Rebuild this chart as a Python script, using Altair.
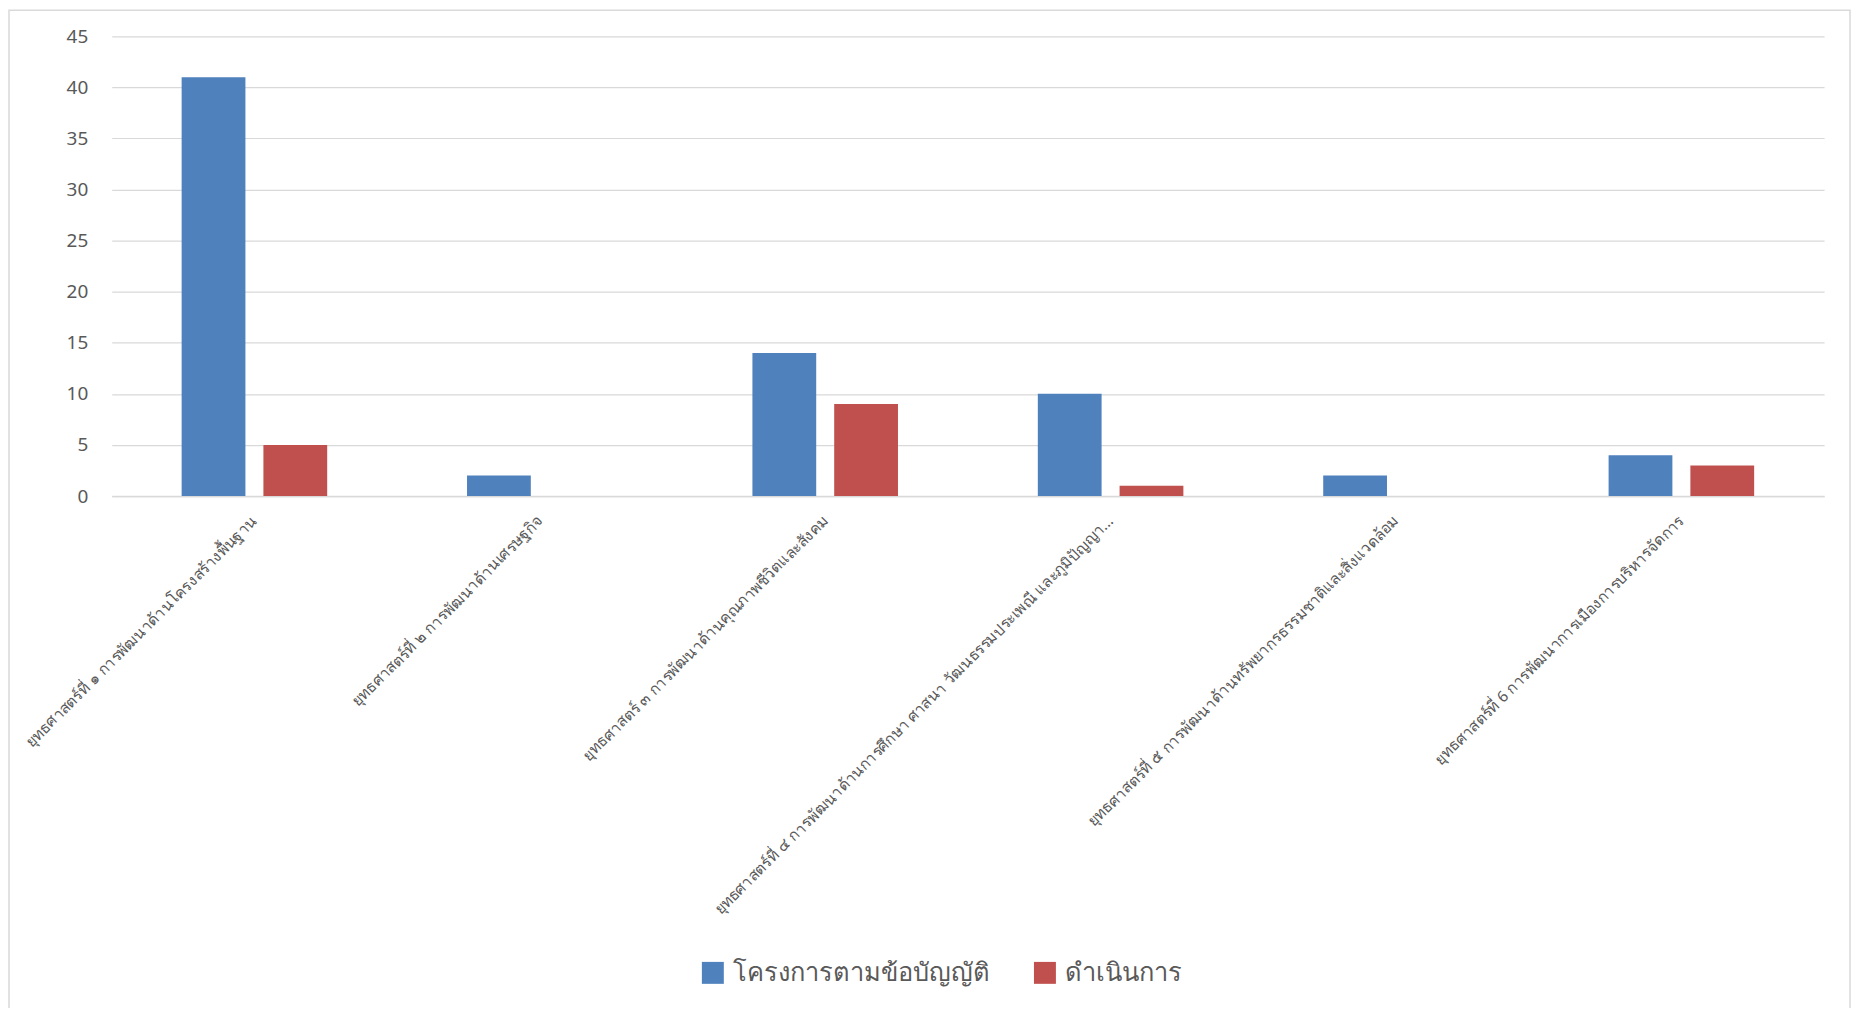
import altair as alt
import pandas as pd

categories = [
    "ยุทธศาสตร์ที่ ๑ การพัฒนาด้านโครงสร้างพื้นฐาน",
    "ยุทธศาสตร์ที่ ๒ การพัฒนาด้านเศรษฐกิจ",
    "ยุทธศาสตร์ ๓ การพัฒนาด้านคุณภาพชีวิตและสังคม",
    "ยุทธศาสตร์ที่ ๔ การพัฒนาด้านการศึกษา ศาสนา วัฒนธรรมประเพณี และภูมิปัญญา...",
    "ยุทธศาสตร์ที่ ๕ การพัฒนาด้านทรัพยากรธรรมชาติและสิ่งแวดล้อม",
    "ยุทธศาสตร์ที่ 6 การพัฒนาการเมืองการบริหารจัดการ",
]
series = ["โครงการตามข้อบัญญัติ", "ดำเนินการ"]
planned = [41, 2, 14, 10, 2, 4]
done = [5, 0, 9, 1, 0, 3]
colors = ["#4F81BD", "#C0504D"]

rows = []
for c, p, d in zip(categories, planned, done):
    rows.append({"cat": c, "series": series[0], "value": p})
    rows.append({"cat": c, "series": series[1], "value": d})
df = pd.DataFrame(rows)

W, H = 1717, 461
PAD_L, PAD_T, PAD_R, PAD_B = 104, 27, 28, 512
FONT = "Noto Sans"

bars = alt.Chart(df).mark_bar().encode(
    x=alt.X("cat:N", sort=categories, title=None,
            scale=alt.Scale(paddingInner=0.49, paddingOuter=0.245),
            axis=alt.Axis(labelAngle=-45, labelAlign="right", labelBaseline="middle",
                          labelFontSize=15.5, labelColor="#595959", labelFont=FONT,
                          labelPadding=22, labelLimit=0, ticks=False, tickSize=0,
                          domain=True, domainColor="#d9d9d9", domainWidth=1.5)),
    xOffset=alt.XOffset("series:N", sort=series, scale=alt.Scale(paddingInner=0.22)),
    y=alt.Y("value:Q", title=None,
            scale=alt.Scale(domain=[0, 45], nice=False),
            axis=alt.Axis(values=list(range(0, 50, 5)), labelFontSize=19,
                          labelColor="#595959", labelFont=FONT, labelPadding=24,
                          ticks=False, tickSize=0, domain=False,
                          gridColor="#d9d9d9", gridWidth=1.2)),
    color=alt.Color("series:N", sort=series, title=None,
                    scale=alt.Scale(domain=series, range=colors),
                    legend=alt.Legend(orient="none", legendX=590, legendY=926,
                                      direction="horizontal", symbolType="square",
                                      symbolSize=484, symbolStrokeWidth=0,
                                      labelFontSize=25.5, labelColor="#595959",
                                      labelFont=FONT, labelOffset=7,
                                      columnPadding=43, labelLimit=0)),
)

frame = alt.Chart(alt.Data(values=[{"a": 1}])).mark_rect(
    fillOpacity=0, stroke="#d9d9d9", strokeWidth=1.5
).encode(
    x=alt.value(-PAD_L + 1), x2=alt.value(W + PAD_R - 2),
    y=alt.value(-PAD_T + 1), y2=alt.value(H + PAD_B + 10),
)

chart = alt.layer(frame, bars).properties(
    width=W, height=H,
    background="white",
    autosize=alt.AutoSizeParams(type="none"),
    padding={"left": PAD_L, "top": PAD_T, "right": PAD_R, "bottom": PAD_B},
).configure_view(stroke=None)

chart.save("out.html", embed_options={"renderer": "svg", "actions": False})
